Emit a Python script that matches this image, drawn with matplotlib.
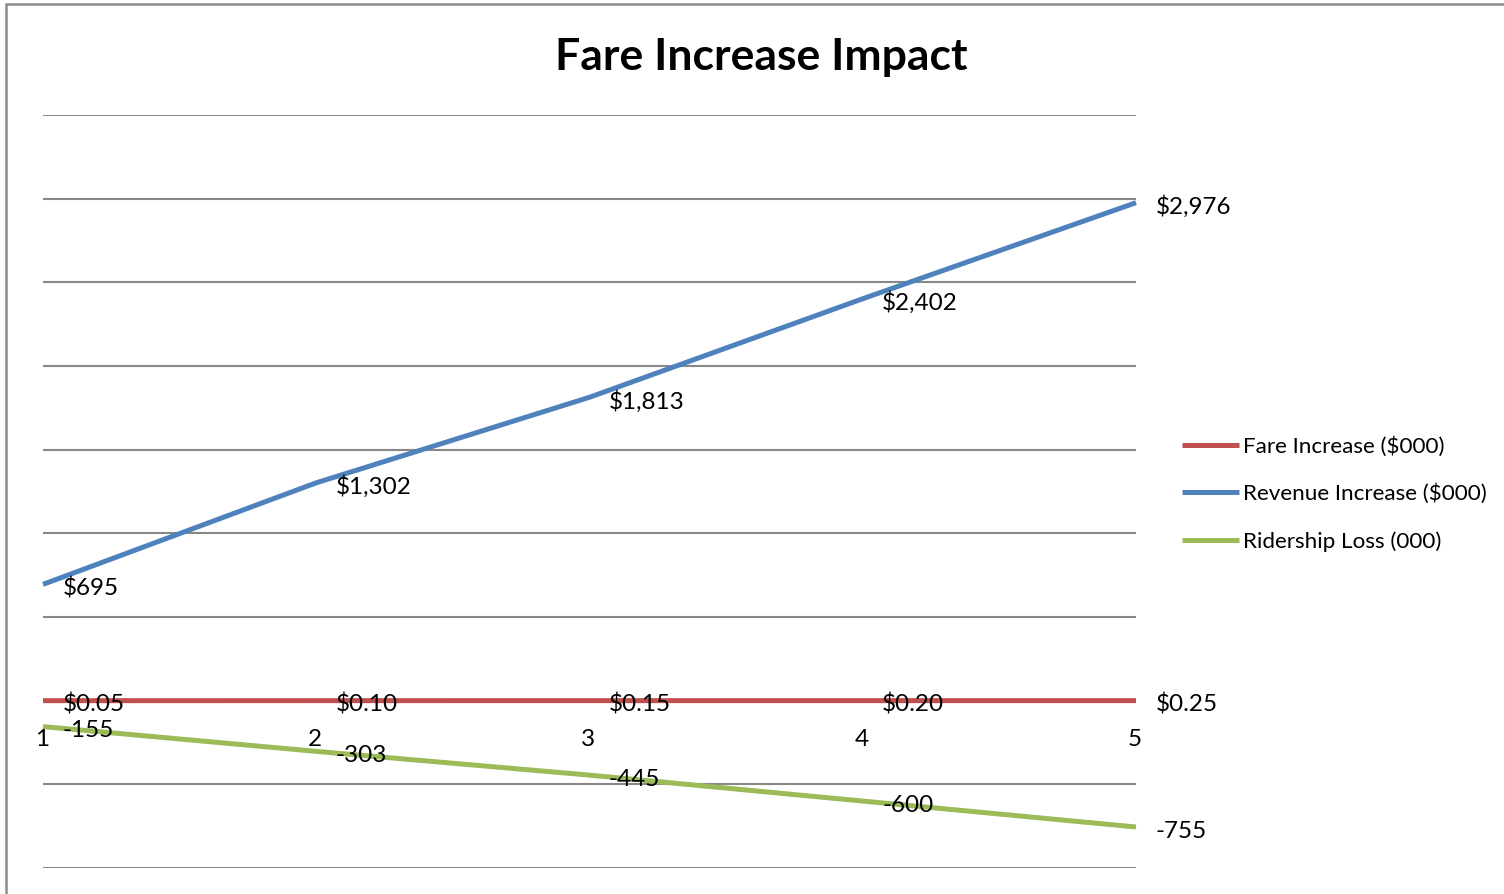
import matplotlib
matplotlib.use("Agg")
import matplotlib.pyplot as plt
from matplotlib.patches import Rectangle

plt.rcParams['font.family'] = ['Lato', 'DejaVu Sans']

# Data
steps = [1, 2, 3, 4, 5]
fare_increase = [0.05, 0.10, 0.15, 0.20, 0.25]
revenue_increase = [695, 1302, 1813, 2402, 2976]
ridership_loss = [-155, -303, -445, -600, -755]

fare_labels = ["$0.05", "$0.10", "$0.15", "$0.20", "$0.25"]
revenue_labels = ["$695", "$1,302", "$1,813", "$2,402", "$2,976"]
ridership_labels = ["-155", "-303", "-445", "-600", "-755"]

RED = "#C0504D"
BLUE = "#4F81BD"
GREEN = "#9BBB59"
GRID = "#888888"

W, H = 1504, 894
fig = plt.figure(figsize=(W / 100, H / 100), dpi=100)
fig.patch.set_facecolor("white")

# Outer chart border
fig.add_artist(Rectangle((6 / W, -0.02), 1.05, 1 - 4 / H + 0.02,
                         transform=fig.transFigure, fill=False,
                         edgecolor="#8c8c8c", linewidth=1.8))

ax = fig.add_axes([43 / W, 1 - 868 / H, (1136 - 43) / W, (868 - 115) / H])
ax.set_xlim(1, 5)
ax.set_ylim(-1000, 3500)
ax.set_yticks(range(-1000, 3501, 500))
ax.set_xticks([])
ax.tick_params(left=False, labelleft=False)
ax.yaxis.grid(True, color=GRID, linewidth=1.5)
ax.set_axisbelow(True)
for s in ax.spines.values():
    s.set_visible(False)

lw = 3.6
ax.plot(steps, fare_increase, color=RED, lw=lw, label="Fare Increase ($000)",
        solid_capstyle="butt", clip_on=False)
ax.plot(steps, revenue_increase, color=BLUE, lw=lw, label="Revenue Increase ($000)",
        solid_capstyle="butt", clip_on=False)
ax.plot(steps, ridership_loss, color=GREEN, lw=lw, label="Ridership Loss (000)",
        solid_capstyle="butt", clip_on=False)

fs = 17.5
for xs, ys, labs in [(steps, fare_increase, fare_labels),
                     (steps, revenue_increase, revenue_labels),
                     (steps, ridership_loss, ridership_labels)]:
    for x, y, t in zip(xs, ys, labs):
        ax.annotate(t, (x, y), xytext=(14, -3), textcoords="offset points",
                    ha="left", va="center", fontsize=fs, color="black",
                    annotation_clip=False)

# Category labels just below the zero line
for x in steps:
    ax.annotate(str(x), (x, 0), xytext=(-1, -28), textcoords="offset points",
                ha="center", va="center", fontsize=fs, color="black",
                annotation_clip=False)

fig.text(761 / W, 1 - 57 / H, "Fare Increase Impact", ha="center", va="center",
         fontsize=32, fontweight="bold")

fig.legend(loc="center left", bbox_to_anchor=(1182 / W, 1 - 494 / H),
           frameon=False, fontsize=16.2, handlelength=2.55, handletextpad=0.18,
           labelspacing=1.2, borderaxespad=0, borderpad=0)

fig.savefig("out.png", dpi=100)
